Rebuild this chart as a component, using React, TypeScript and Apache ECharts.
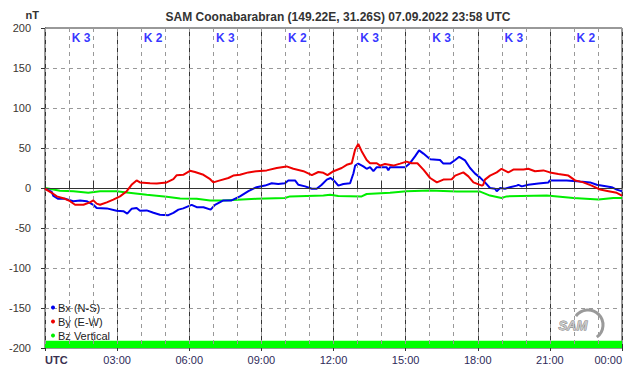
import React, { useEffect, useRef } from "react";
import * as echarts from "echarts";

const title = "SAM Coonabarabran (149.22E, 31.26S) 07.09.2022 23:58 UTC";
const kIndex = [3, 2, 3, 2, 3, 3, 3, 2];
const xTickLabels = ["UTC", "03:00", "06:00", "09:00", "12:00", "15:00", "18:00", "21:00", "00:00"];

const bx: number[][] = [
  [0, -1], [0.15, -3], [0.28, -5], [0.35, -10], [0.55, -13.5], [0.83, -13.5], [1.0, -15], [1.18, -16.5],
  [1.46, -15.5], [1.73, -16.5], [2.01, -21], [2.15, -25], [2.57, -25.5], [2.98, -28.5], [3.26, -29],
  [3.42, -32], [3.6, -26], [3.81, -25], [3.95, -28.5], [4.23, -28], [4.51, -31], [4.78, -33.5], [5.13, -34],
  [5.34, -31], [5.55, -27], [5.75, -25.5], [6.1, -21], [6.31, -24], [6.59, -24], [6.89, -27], [7.07, -21],
  [7.42, -15.5], [7.76, -15.5], [8.11, -10.5], [8.46, -4], [8.8, 1], [9.15, 3], [9.43, 6], [9.7, 5],
  [9.98, 6], [10.12, 9.5], [10.4, 9.5], [10.54, 4], [10.82, 2], [11.1, -1], [11.3, -1], [11.51, 4],
  [11.72, 10.5], [11.88, 12.5], [12.06, 8], [12.2, 3], [12.41, 5], [12.69, 6], [12.83, 18.5], [12.9, 28],
  [13.03, 30.5], [13.24, 27], [13.38, 24], [13.52, 26], [13.66, 21], [13.8, 26], [14.21, 26], [14.28, 22],
  [14.35, 26], [14.98, 26], [15.18, 31], [15.39, 39.5], [15.56, 47], [15.74, 43], [16.02, 36], [16.43, 35],
  [16.57, 30.5], [16.85, 30.5], [17.06, 35], [17.23, 39], [17.47, 34.5], [17.68, 25], [17.89, 18],
  [18.1, 13], [18.3, 7], [18.51, 0], [18.72, -1], [18.79, -4], [18.93, 0], [19.13, -1], [19.34, 1],
  [19.62, 3], [19.69, 4], [19.83, 2], [20.1, 4], [20.52, 5.5], [20.94, 7], [21.0, 9.5], [21.7, 9.5],
  [22.25, 8], [22.67, 7], [22.95, 4], [23.57, 1], [23.78, -2], [24, -4],
];

const by: number[][] = [
  [0, -1], [0.28, -6], [0.49, -10.5], [0.83, -13.5], [1.04, -16.5], [1.25, -21], [1.6, -21], [1.87, -18],
  [2.01, -15.5], [2.15, -19.5], [2.29, -21], [2.57, -18], [2.84, -14.5], [3.12, -10.5], [3.4, -4], [3.6, 4],
  [3.81, 9.5], [3.95, 7], [4.37, 6], [4.65, 5.5], [5.06, 7], [5.34, 11], [5.48, 16], [5.75, 16.5],
  [6.03, 21.5], [6.24, 20], [6.59, 16.5], [6.87, 11], [7.0, 7], [7.28, 9.5], [7.63, 12.5], [7.83, 15.5],
  [8.11, 16.5], [8.46, 19.5], [8.8, 21], [9.22, 22], [9.64, 25], [10.05, 27], [10.33, 24], [10.75, 21],
  [11.1, 16], [11.37, 20], [11.58, 19], [11.75, 16], [12.0, 21], [12.34, 25], [12.55, 29], [12.76, 31],
  [12.9, 48], [13.03, 55], [13.17, 46], [13.38, 35], [13.52, 31], [13.8, 31], [13.94, 28], [14.14, 30],
  [14.49, 28], [14.77, 30.5], [15.04, 33], [15.25, 31], [15.49, 31], [15.74, 23], [16.02, 12.5], [16.3, 7],
  [16.57, 10.5], [16.92, 11], [17.06, 15.5], [17.4, 19.5], [17.61, 14.5], [17.82, 7], [18.17, 3],
  [18.23, 4], [18.3, 10.5], [18.51, 15.5], [18.79, 19.5], [18.99, 24], [19.27, 19.5], [19.48, 23],
  [19.9, 23], [20.1, 24], [20.38, 21], [20.73, 22], [21.0, 19.5], [21.35, 17.5], [21.77, 15.5],
  [22.05, 9.5], [22.39, 7], [22.74, 3], [23.09, -2], [23.44, -4], [23.78, -6], [24, -9.5],
];

const bz: number[][] = [
  [0, 0], [0.35, -2], [0.62, -3.5], [1.18, -4], [1.8, -6], [2.29, -4], [2.98, -4], [3.4, -5.5],
  [4.23, -8.5], [5.06, -11], [5.62, -13], [6.31, -13.5], [6.87, -15.5], [7.42, -15.5], [8.8, -13.5],
  [9.98, -12.5], [10.19, -10.5], [11.58, -9.5], [11.86, -8.5], [12.2, -10], [13.17, -10.5], [13.38, -7.5],
  [14.35, -6], [15.04, -4], [16.02, -3], [17.13, -4.5], [18.1, -4.5], [18.51, -9.5], [18.99, -12.5],
  [19.2, -10.5], [20.87, -9.5], [21.98, -12.5], [23.02, -14.5], [23.64, -12.5], [24, -12.5],
];

const kLabelY = 188;

export default function App() {
  const ref = useRef<HTMLDivElement>(null);
  useEffect(() => {
    document.body.style.margin = "0";
    if (!ref.current) return;
    const chart = echarts.init(ref.current, null, { renderer: "svg" });
    const font = "Arial, 'Liberation Sans', sans-serif";
    const kData = kIndex.map((k, i) => ({ value: [i * 3 + 1.5, kLabelY], k }));
    chart.setOption({
      animation: false,
      backgroundColor: "#ffffff",
      textStyle: { fontFamily: font },
      title: {
        text: title,
        left: 333,
        textAlign: "center",
        top: 6,
        textStyle: { fontSize: 12, fontWeight: "bold", color: "#333333", fontFamily: font },
      },
      grid: { left: 45, right: 20, top: 28, bottom: 28, show: true, borderColor: "#333", borderWidth: 1, backgroundColor: "transparent" },
      legend: {
        orient: "vertical",
        left: 46,
        top: 297,
        icon: "circle",
        itemWidth: 4,
        itemHeight: 4,
        itemGap: 3,
        textStyle: { fontSize: 11, color: "#222", fontFamily: font, padding: [0, 0, 0, -2] },
        data: ["Bx (N-S)", "By (E-W)", "Bz Vertical"],
      },
      xAxis: [
        {
          type: "value",
          min: 0,
          max: 24,
          interval: 1,
          z: 5,
          axisLine: { lineStyle: { color: "#333" } },
          axisTick: { show: true, inside: true, length: 7, lineStyle: { color: "#333" } },
          splitLine: { show: true, lineStyle: { color: "#999", type: [4, 4], width: 1 } },
          axisLabel: {
            show: true,
            color: "#2e2a5a",
            fontSize: 11,
            fontFamily: font,
            margin: 6,
            alignMinLabel: "left",
            alignMaxLabel: "right",
            formatter: (v: number) => (v === 0 ? "{b|UTC}" : v % 3 === 0 ? xTickLabels[v / 3] : ""),
            rich: { b: { fontWeight: "bold", color: "#3a3050", fontSize: 11, fontFamily: font } },
          },
        },
        {
          type: "value",
          min: 0,
          max: 24,
          interval: 3,
          position: "bottom",
          axisLine: { show: false },
          axisTick: { show: true, length: 3, lineStyle: { color: "#333" } },
          axisLabel: { show: false },
          splitLine: { show: true, lineStyle: { color: "#333", width: 1, type: "solid" } },
        },
      ],
      yAxis: {
        type: "value",
        min: -200,
        max: 200,
        interval: 50,
        name: "nT",
        nameLocation: "end",
        nameGap: 8,
        nameTextStyle: { fontSize: 11, fontWeight: "bold", color: "#333", align: "right", padding: [0, 6, 0, 0], fontFamily: font },
        axisLine: { show: true, lineStyle: { color: "#333" } },
        axisTick: { show: true, length: 4, lineStyle: { color: "#333" } },
        axisLabel: { color: "#3a3530", fontSize: 11, margin: 14, fontFamily: font },
        splitLine: { show: true, lineStyle: { color: "#999", type: [4, 4] } },
      },
      series: [
        {
          name: "Bz Vertical",
          type: "line",
          data: bz,
          showSymbol: false,
          symbol: "circle",
          color: "#00ee00",
          lineStyle: { width: 2, color: "#00ee00" },
          z: 3,
          markArea: {
            silent: true,
            itemStyle: { color: "#00ff00", opacity: 1 },
            data: [[{ yAxis: -200 }, { yAxis: -191 }]],
          },
          markLine: {
            silent: true,
            symbol: "none",
            label: { show: false },
            lineStyle: { color: "#444", type: "solid", width: 1 },
            data: [{ yAxis: 0 }],
          },
        },
        {
          name: "Bx (N-S)",
          type: "line",
          data: bx,
          showSymbol: false,
          symbol: "circle",
          color: "#0000ee",
          lineStyle: { width: 2, color: "#0000ee" },
          z: 4,
        },
        {
          name: "By (E-W)",
          type: "line",
          data: by,
          showSymbol: false,
          symbol: "circle",
          color: "#ee0000",
          lineStyle: { width: 2, color: "#ee0000" },
          z: 5,
        },
        {
          name: "K",
          type: "scatter",
          data: kData,
          symbolSize: 0,
          silent: true,
          label: {
            show: true,
            position: "inside",
            formatter: (p: any) => "K " + p.data.k,
            color: "#0000ff",
            fontWeight: "bold",
            fontSize: 12,
            fontFamily: font,
          },
        },
      ],
      graphic: [
        {
          type: "arc",
          shape: { cx: 588, cy: 325, r: 15, startAngle: -Math.PI * 0.8, endAngle: Math.PI * 0.3 },
          style: { stroke: "#9a9a9a", lineWidth: 3, fill: "none" },
        },
        {
          type: "text",
          left: 558,
          top: 319,
          style: {
            text: "SAM",
            fontSize: 13,
            fontStyle: "italic",
            fontWeight: "bold",
            fontFamily: font,
            fill: "#c8c8c8",
            stroke: "#777",
            lineWidth: 0.8,
          },
        },
      ],
    });
    return () => chart.dispose();
  }, []);
  return <div ref={ref} style={{ width: 642, height: 376 }} />;
}
